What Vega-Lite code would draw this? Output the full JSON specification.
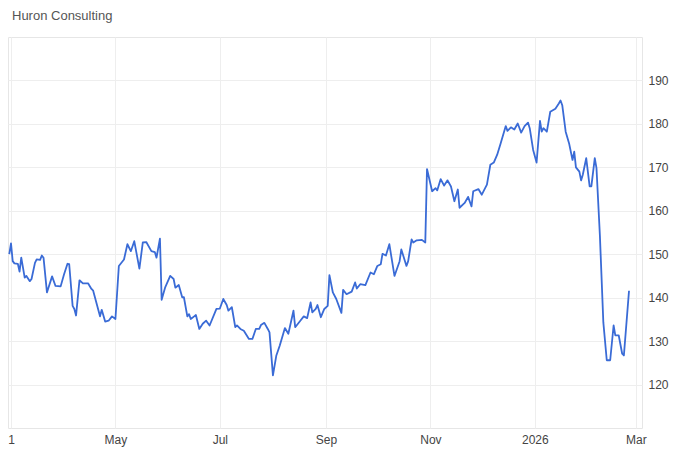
{
  "$schema": "https://vega.github.io/schema/vega-lite/v6.json",
  "autosize": {"type": "none"},
  "padding": {"left": 8, "top": 37, "right": 58, "bottom": 22},
  "width": 634,
  "height": 391,
  "background": "white",
  "title": {"text": "Huron Consulting", "anchor": "start", "frame": "group", "dx": 4, "offset": 14, "fontSize": 13, "fontWeight": "normal", "color": "#555555", "font": "Liberation Sans"},
  "config": {
    "font": "Liberation Sans",
    "view": {"stroke": "#e6e6e6", "strokeWidth": 1}
  },
  "data": {"values": [
    {"date": "2025-02-28", "price": 150.0},
    {"date": "2025-03-01", "price": 152.5},
    {"date": "2025-03-02", "price": 148.4},
    {"date": "2025-03-03", "price": 147.9},
    {"date": "2025-03-05", "price": 147.8},
    {"date": "2025-03-06", "price": 146.0},
    {"date": "2025-03-07", "price": 149.2},
    {"date": "2025-03-09", "price": 144.6},
    {"date": "2025-03-10", "price": 145.0},
    {"date": "2025-03-12", "price": 143.8},
    {"date": "2025-03-13", "price": 144.3},
    {"date": "2025-03-15", "price": 148.0},
    {"date": "2025-03-16", "price": 148.8},
    {"date": "2025-03-18", "price": 148.7},
    {"date": "2025-03-19", "price": 149.7},
    {"date": "2025-03-20", "price": 149.2},
    {"date": "2025-03-22", "price": 141.2},
    {"date": "2025-03-25", "price": 144.9},
    {"date": "2025-03-27", "price": 142.7},
    {"date": "2025-03-30", "price": 142.6},
    {"date": "2025-04-01", "price": 145.4},
    {"date": "2025-04-03", "price": 147.8},
    {"date": "2025-04-04", "price": 147.7},
    {"date": "2025-04-06", "price": 138.1},
    {"date": "2025-04-07", "price": 137.4},
    {"date": "2025-04-08", "price": 135.9},
    {"date": "2025-04-10", "price": 144.0},
    {"date": "2025-04-12", "price": 143.3},
    {"date": "2025-04-15", "price": 143.3},
    {"date": "2025-04-17", "price": 142.0},
    {"date": "2025-04-18", "price": 141.6},
    {"date": "2025-04-22", "price": 135.7},
    {"date": "2025-04-23", "price": 137.2},
    {"date": "2025-04-25", "price": 134.5},
    {"date": "2025-04-27", "price": 134.7},
    {"date": "2025-04-29", "price": 135.7},
    {"date": "2025-05-01", "price": 135.1},
    {"date": "2025-05-03", "price": 147.3},
    {"date": "2025-05-06", "price": 148.8},
    {"date": "2025-05-08", "price": 152.3},
    {"date": "2025-05-10", "price": 150.7},
    {"date": "2025-05-12", "price": 153.0},
    {"date": "2025-05-15", "price": 146.7},
    {"date": "2025-05-17", "price": 152.7},
    {"date": "2025-05-19", "price": 152.8},
    {"date": "2025-05-22", "price": 150.7},
    {"date": "2025-05-24", "price": 150.5},
    {"date": "2025-05-25", "price": 149.2},
    {"date": "2025-05-27", "price": 153.6},
    {"date": "2025-05-28", "price": 139.5},
    {"date": "2025-05-30", "price": 142.3},
    {"date": "2025-06-02", "price": 145.0},
    {"date": "2025-06-04", "price": 144.3},
    {"date": "2025-06-05", "price": 142.3},
    {"date": "2025-06-07", "price": 142.9},
    {"date": "2025-06-09", "price": 140.1},
    {"date": "2025-06-10", "price": 140.1},
    {"date": "2025-06-12", "price": 135.7},
    {"date": "2025-06-13", "price": 136.2},
    {"date": "2025-06-14", "price": 135.1},
    {"date": "2025-06-16", "price": 135.7},
    {"date": "2025-06-17", "price": 136.0},
    {"date": "2025-06-19", "price": 132.8},
    {"date": "2025-06-21", "price": 134.0},
    {"date": "2025-06-23", "price": 134.7},
    {"date": "2025-06-25", "price": 133.6},
    {"date": "2025-06-29", "price": 137.4},
    {"date": "2025-07-01", "price": 137.5},
    {"date": "2025-07-03", "price": 139.7},
    {"date": "2025-07-05", "price": 138.3},
    {"date": "2025-07-06", "price": 137.0},
    {"date": "2025-07-08", "price": 137.8},
    {"date": "2025-07-10", "price": 133.2},
    {"date": "2025-07-11", "price": 133.6},
    {"date": "2025-07-13", "price": 132.8},
    {"date": "2025-07-15", "price": 132.4},
    {"date": "2025-07-18", "price": 130.5},
    {"date": "2025-07-20", "price": 130.5},
    {"date": "2025-07-22", "price": 132.8},
    {"date": "2025-07-24", "price": 132.8},
    {"date": "2025-07-25", "price": 133.7},
    {"date": "2025-07-27", "price": 134.2},
    {"date": "2025-07-29", "price": 132.8},
    {"date": "2025-07-30", "price": 132.0},
    {"date": "2025-08-01", "price": 122.1},
    {"date": "2025-08-03", "price": 126.7},
    {"date": "2025-08-05", "price": 129.0},
    {"date": "2025-08-08", "price": 133.0},
    {"date": "2025-08-10", "price": 131.7},
    {"date": "2025-08-13", "price": 137.0},
    {"date": "2025-08-14", "price": 133.2},
    {"date": "2025-08-17", "price": 134.7},
    {"date": "2025-08-19", "price": 135.7},
    {"date": "2025-08-21", "price": 135.3},
    {"date": "2025-08-23", "price": 138.9},
    {"date": "2025-08-24", "price": 136.6},
    {"date": "2025-08-26", "price": 137.4},
    {"date": "2025-08-27", "price": 138.3},
    {"date": "2025-08-29", "price": 135.5},
    {"date": "2025-08-31", "price": 137.4},
    {"date": "2025-09-02", "price": 138.1},
    {"date": "2025-09-03", "price": 145.2},
    {"date": "2025-09-05", "price": 141.2},
    {"date": "2025-09-07", "price": 139.7},
    {"date": "2025-09-10", "price": 136.5},
    {"date": "2025-09-11", "price": 141.8},
    {"date": "2025-09-13", "price": 140.8},
    {"date": "2025-09-16", "price": 141.4},
    {"date": "2025-09-18", "price": 143.5},
    {"date": "2025-09-19", "price": 142.1},
    {"date": "2025-09-21", "price": 143.1},
    {"date": "2025-09-24", "price": 142.9},
    {"date": "2025-09-27", "price": 145.8},
    {"date": "2025-09-29", "price": 145.4},
    {"date": "2025-10-01", "price": 147.3},
    {"date": "2025-10-03", "price": 147.7},
    {"date": "2025-10-04", "price": 150.1},
    {"date": "2025-10-06", "price": 149.7},
    {"date": "2025-10-08", "price": 152.3},
    {"date": "2025-10-11", "price": 145.0},
    {"date": "2025-10-14", "price": 148.4},
    {"date": "2025-10-15", "price": 151.1},
    {"date": "2025-10-18", "price": 147.3},
    {"date": "2025-10-19", "price": 148.4},
    {"date": "2025-10-21", "price": 153.4},
    {"date": "2025-10-22", "price": 152.7},
    {"date": "2025-10-24", "price": 153.2},
    {"date": "2025-10-27", "price": 153.3},
    {"date": "2025-10-29", "price": 152.7},
    {"date": "2025-10-30", "price": 169.6},
    {"date": "2025-11-02", "price": 164.5},
    {"date": "2025-11-04", "price": 165.2},
    {"date": "2025-11-05", "price": 164.7},
    {"date": "2025-11-07", "price": 167.3},
    {"date": "2025-11-09", "price": 165.8},
    {"date": "2025-11-11", "price": 167.0},
    {"date": "2025-11-13", "price": 165.6},
    {"date": "2025-11-15", "price": 162.2},
    {"date": "2025-11-17", "price": 164.9},
    {"date": "2025-11-18", "price": 160.7},
    {"date": "2025-11-21", "price": 161.8},
    {"date": "2025-11-23", "price": 163.2},
    {"date": "2025-11-25", "price": 161.0},
    {"date": "2025-11-26", "price": 164.5},
    {"date": "2025-11-29", "price": 165.0},
    {"date": "2025-12-01", "price": 163.7},
    {"date": "2025-12-04", "price": 166.0},
    {"date": "2025-12-06", "price": 170.6},
    {"date": "2025-12-08", "price": 171.1},
    {"date": "2025-12-10", "price": 172.9},
    {"date": "2025-12-12", "price": 175.5},
    {"date": "2025-12-15", "price": 179.5},
    {"date": "2025-12-16", "price": 178.4},
    {"date": "2025-12-18", "price": 179.2},
    {"date": "2025-12-20", "price": 178.7},
    {"date": "2025-12-22", "price": 180.1},
    {"date": "2025-12-24", "price": 178.0},
    {"date": "2025-12-26", "price": 179.5},
    {"date": "2025-12-28", "price": 180.3},
    {"date": "2025-12-29", "price": 179.0},
    {"date": "2025-12-31", "price": 174.0},
    {"date": "2026-01-02", "price": 171.1},
    {"date": "2026-01-04", "price": 180.7},
    {"date": "2026-01-05", "price": 178.2},
    {"date": "2026-01-06", "price": 179.0},
    {"date": "2026-01-08", "price": 178.2},
    {"date": "2026-01-10", "price": 182.8},
    {"date": "2026-01-13", "price": 183.5},
    {"date": "2026-01-15", "price": 184.7},
    {"date": "2026-01-16", "price": 185.4},
    {"date": "2026-01-17", "price": 184.3},
    {"date": "2026-01-19", "price": 178.2},
    {"date": "2026-01-21", "price": 175.5},
    {"date": "2026-01-23", "price": 171.7},
    {"date": "2026-01-24", "price": 173.6},
    {"date": "2026-01-25", "price": 170.0},
    {"date": "2026-01-27", "price": 169.0},
    {"date": "2026-01-28", "price": 167.0},
    {"date": "2026-01-29", "price": 168.3},
    {"date": "2026-01-31", "price": 172.1},
    {"date": "2026-02-02", "price": 165.6},
    {"date": "2026-02-03", "price": 165.6},
    {"date": "2026-02-05", "price": 172.1},
    {"date": "2026-02-06", "price": 169.8},
    {"date": "2026-02-08", "price": 154.2},
    {"date": "2026-02-10", "price": 134.3},
    {"date": "2026-02-12", "price": 125.6},
    {"date": "2026-02-14", "price": 125.6},
    {"date": "2026-02-16", "price": 133.6},
    {"date": "2026-02-17", "price": 131.3},
    {"date": "2026-02-19", "price": 131.3},
    {"date": "2026-02-21", "price": 127.1},
    {"date": "2026-02-22", "price": 126.7},
    {"date": "2026-02-25", "price": 141.6}
  ]},
  "mark": {"type": "line", "color": "#3a6bd6", "strokeWidth": 1.8, "strokeJoin": "round", "clip": true},
  "encoding": {
    "x": {
      "field": "date",
      "type": "temporal",
      "scale": {
        "type": "utc",
        "domain": ["2025-02-27T06:00:00Z", "2026-03-04T14:00:00Z"]
      },
      "axis": {
        "title": null,
        "tickCount": {"interval": "month", "step": 2},
        "labelExpr": "utcmonth(datum.value) == 0 ? utcFormat(datum.value, '%Y') : (utcyear(datum.value) == 2025 && utcmonth(datum.value) == 2 ? '1' : utcFormat(datum.value, '%b'))",
        "labelFlush": false,
        "labelOverlap": false,
        "labelFontSize": 12,
        "labelColor": "#444444",
        "labelPadding": 6,
        "ticks": false,
        "domain": false,
        "grid": true,
        "gridColor": "#eeeeee",
        "gridWidth": 1
      }
    },
    "y": {
      "field": "price",
      "type": "quantitative",
      "scale": {"domain": [110, 200], "nice": false, "zero": false},
      "axis": {
        "orient": "right",
        "title": null,
        "values": [120, 130, 140, 150, 160, 170, 180, 190],
        "labelFontSize": 12,
        "labelColor": "#444444",
        "labelPadding": 6,
        "ticks": false,
        "domain": false,
        "grid": true,
        "gridColor": "#eeeeee",
        "gridWidth": 1
      }
    }
  }
}
